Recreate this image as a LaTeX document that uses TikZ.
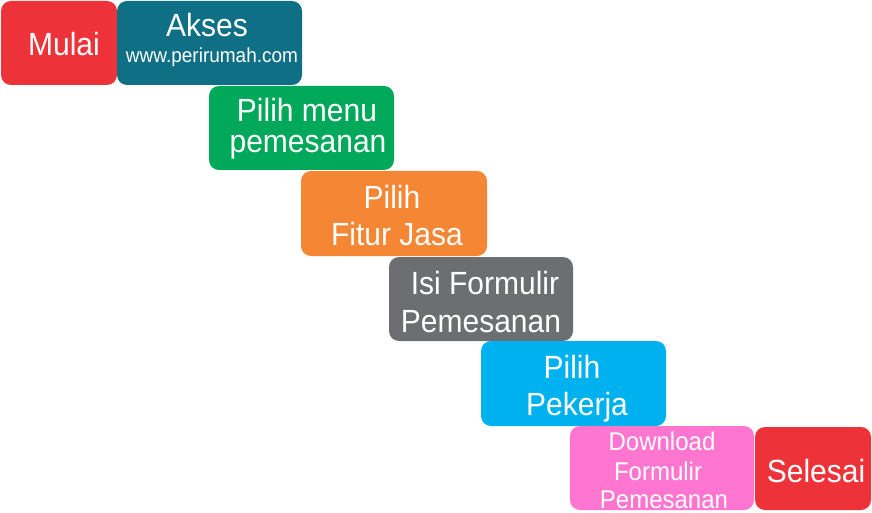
\documentclass[tikz,border=0pt]{standalone}
\usepackage{fontspec}
\setmainfont{Liberation Sans}
\definecolor{cRed}{HTML}{EE3239}
\definecolor{cTeal}{HTML}{0E6F85}
\definecolor{cGreen}{HTML}{00A859}
\definecolor{cOrange}{HTML}{F58634}
\definecolor{cGray}{HTML}{6D6E71}
\definecolor{cCyan}{HTML}{00B1EF}
\definecolor{cPink}{HTML}{FF76D0}
\newcommand{\talltext}[1]{\scalebox{1}[1.07]{#1}}
\tikzset{
  stepbox/.style={rounded corners=10pt, inner sep=0pt, draw=none},
  big/.style={text=white, font=\fontsize{30}{36}\selectfont, anchor=base, inner sep=0pt},
  mid/.style={text=white, font=\fontsize{24}{28}\selectfont, anchor=base, inner sep=0pt},
  small/.style={text=white, font=\fontsize{19}{22}\selectfont, anchor=base, inner sep=0pt},
}
\begin{document}
\begin{tikzpicture}[x=1pt,y=-1pt]
\useasboundingbox (0,0) rectangle (872,513);
% boxes
\fill[stepbox, cRed]    (1,1) rectangle (117,85);
\fill[stepbox, cTeal]   (117,1) rectangle (302,85);
\fill[stepbox, cGreen]  (209,86) rectangle (394,170);
\fill[stepbox, cOrange] (301,171) rectangle (487,256);
\fill[stepbox, cGray]   (389,257) rectangle (573,341);
\fill[stepbox, cCyan]   (481,341) rectangle (666,426);
\fill[stepbox, cPink]   (570,426) rectangle (754,510);
\fill[stepbox, cRed]    (755,427) rectangle (871,510);
% texts
\node[big] (mulai) at (64,56) {\talltext{Mulai}};
\node[big] (akses) at (207,37) {\talltext{Akses}};
\node[small] (url) at (212,63) {\talltext{www.perirumah.com}};
\node[big] (pm1) at (307,122) {\talltext{Pilih menu}};
\node[big] (pm2) at (308,153) {\talltext{pemesanan}};
\node[big] (fj1) at (392,208) {\talltext{Pilih}};
\node[big] (fj2) at (397,245) {\talltext{Fitur Jasa}};
\node[big] (if1) at (485,294) {\talltext{Isi Formulir}};
\node[big] (if2) at (481,332) {\talltext{Pemesanan}};
\node[big] (pp1) at (572,378) {\talltext{Pilih}};
\node[big] (pp2) at (577,415) {\talltext{Pekerja}};
\node[mid] (dl1) at (662,450) {\talltext{Download}};
\node[mid] (dl2) at (658,480) {\talltext{Formulir}};
\node[mid] (dl3) at (664,508) {\talltext{Pemesanan}};
\node[big] (sel) at (816,482) {\talltext{Selesai}};
\end{tikzpicture}
\end{document}
